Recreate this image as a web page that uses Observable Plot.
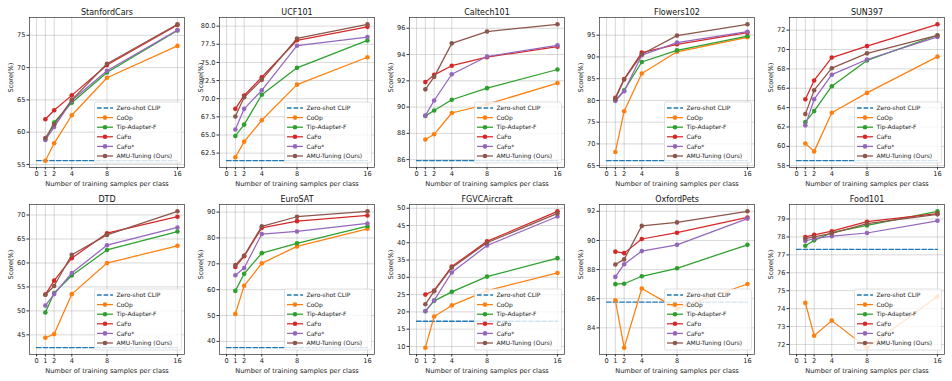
<!DOCTYPE html>
<html><head><meta charset="utf-8">
<script src="https://cdn.jsdelivr.net/npm/d3@7"></script>
<script src="https://cdn.jsdelivr.net/npm/@observablehq/plot@0.6"></script>
<style>
html,body{margin:0;padding:0;background:#fff;}
#root{position:relative;width:952px;height:381px;overflow:hidden;font-family:"DejaVu Sans",sans-serif;}
.panel{position:absolute;width:190px;height:190px;}
.panel svg{overflow:visible;}
</style></head><body><div id="root"></div>
<script>
const shots = [1, 2, 4, 8, 16];
const xTicks = [0, 1, 2, 4, 8, 16];
const datasets = ["StanfordCars","UCF101","Caltech101","Flowers102","SUN397","DTD","EuroSAT","FGVCAircraft","OxfordPets","Food101"];
const methods = ["CoOp","Tip-Adapter-F","CaFo","CaFo*","AMU-Tuning (Ours)"];
const zeroShotLabel = "Zero-shot CLIP";

const zeroShot = [55.61, 61.46, 85.92, 66.14, 58.52, 42.32, 37.56, 17.28, 85.77, 77.31];

const coop = [
  [55.59,58.28,62.62,68.43,73.36],
  [61.92,64.09,67.03,71.94,75.71],
  [87.53,87.93,89.55,90.21,91.83],
  [68.12,77.51,86.20,91.18,94.51],
  [60.29,59.48,63.47,65.52,69.26],
  [44.39,45.15,53.49,59.97,63.58],
  [50.63,61.50,70.18,76.73,83.53],
  [9.64,18.68,21.87,26.13,31.26],
  [85.89,82.64,86.70,85.32,87.01],
  [74.32,72.49,73.33,71.82,74.67]
];
const tipAdapterF = [
  [58.86,61.50,64.57,69.25,75.74],
  [64.87,66.43,70.55,74.25,78.03],
  [89.33,89.74,90.56,91.44,92.86],
  [79.98,82.30,88.83,91.51,94.80],
  [62.50,63.64,66.21,68.87,71.47],
  [49.65,53.72,57.39,62.71,66.55],
  [59.53,66.15,74.12,77.93,84.54],
  [20.22,23.19,25.80,30.21,35.55],
  [87.00,87.03,87.54,88.09,89.70],
  [77.51,77.81,78.24,78.64,79.43]
];
const cafo = [
  [62.0,63.4,65.7,70.4,76.6],
  [68.6,70.45,72.95,78.05,79.9],
  [91.9,92.45,93.15,93.8,94.6],
  [80.6,84.9,91.0,92.9,95.6],
  [64.86,66.8,69.17,70.35,72.6],
  [53.4,56.3,61.0,66.2,69.65],
  [68.8,72.9,83.9,86.5,88.7],
  [25.0,26.2,33.1,40.4,49.1],
  [89.23,89.13,90.1,90.53,91.58],
  [78.0,78.12,78.32,78.85,79.3]
];
const cafoStar = [
  [58.8,60.8,64.9,69.5,75.8],
  [65.75,68.6,71.15,77.3,78.5],
  [89.35,90.5,92.5,93.85,94.7],
  [79.9,82.1,90.4,93.3,95.8],
  [62.17,64.86,67.4,68.97,71.3],
  [51.1,53.5,57.9,63.7,67.4],
  [65.6,68.4,81.5,82.5,85.6],
  [20.2,23.35,31.4,39.2,47.6],
  [87.5,88.37,89.27,89.7,91.5],
  [77.78,77.9,78.04,78.22,78.9]
];
const amuTuning = [
  [59.1,61.2,65.0,70.6,76.7],
  [67.55,70.2,72.6,78.3,80.25],
  [91.35,92.3,94.85,95.75,96.3],
  [80.3,84.8,90.6,94.9,97.5],
  [63.33,65.8,68.07,69.6,71.45],
  [53.35,55.2,61.7,65.85,70.77],
  [69.5,73.2,84.5,88.2,90.3],
  [22.2,26.0,32.8,40.0,48.5],
  [88.35,88.7,91.0,91.24,92.0],
  [77.9,78.0,78.2,78.74,79.26]
];
const yTicks = [
  [55,60,65,70,75],
  [62.5,65,67.5,70,72.5,75,77.5,80],
  [86,88,90,92,94,96],
  [65,70,75,80,85,90,95],
  [58,60,62,64,66,68,70,72],
  [45,50,55,60,65,70],
  [40,50,60,70,80,90],
  [10,15,20,25,30,35,40,45,50],
  [84,86,88,90,92],
  [72,73,74,75,76,77,78,79]
];
const yTickDecimals = [0,1,0,0,0,0,0,0,0,0];

const seriesList = [coop, tipAdapterF, cafo, cafoStar, amuTuning];
const palette = {"Zero-shot CLIP":"#1f77b4","CoOp":"#ff7f0e","Tip-Adapter-F":"#2ca02c","CaFo":"#d62728","CaFo*":"#9467bd","AMU-Tuning (Ours)":"#8c564b"};

const root = document.getElementById("root");
const W = 190, H = 190, mL = 29, mR = 6, mT = 17, mB = 23;
const dash = "4.6,2";
const LW = 1.25, R = 2.3;

datasets.forEach((name, i) => {
  const rowsByMethod = methods.map((m, k) => shots.map((s, j) => ({method: m, shot: s, score: seriesList[k][i][j]})));
  const zero = [{shot: 0, score: zeroShot[i]}, {shot: 16, score: zeroShot[i]}];
  const all = rowsByMethod.flat().map(d => d.score).concat([zeroShot[i]]);
  const lo = d3.min(all), hi = d3.max(all), pad = (hi - lo) * 0.05;
  const fmt = d3.format("." + yTickDecimals[i] + "f");

  const marks = [
    Plot.gridX(xTicks, {stroke: "#b0b0b0", strokeOpacity: 0.55, strokeWidth: 0.9}),
    Plot.gridY(yTicks[i], {stroke: "#b0b0b0", strokeOpacity: 0.55, strokeWidth: 0.9}),
    Plot.axisX(xTicks, {tickSize: 2.5, tickPadding: 1.5, label: null, fontSize: 6.6, tickFormat: d => String(d), stroke: "#333"}),
    Plot.axisY(yTicks[i], {tickSize: 2.5, tickPadding: 1.5, label: null, fontSize: 6.6, tickFormat: fmt, stroke: "#333"}),
    Plot.line(zero, {x: "shot", y: "score", stroke: palette[zeroShotLabel], strokeWidth: 1.35, strokeDasharray: dash})
  ];
  rowsByMethod.forEach((rows, k) => {
    const c = palette[methods[k]];
    marks.push(Plot.line(rows, {x: "shot", y: "score", stroke: c, strokeWidth: LW}));
    marks.push(Plot.dot(rows, {x: "shot", y: "score", fill: c, r: R}));
  });
  marks.push(Plot.frame({stroke: "#333", strokeWidth: 0.7}));
  marks.push(Plot.text([name], {text: d => d, frameAnchor: "top", dy: -5.5, lineAnchor: "middle", fontSize: 8, fill: "#111"}));
  marks.push(Plot.text(["Number of training samples per class"], {text: d => d, frameAnchor: "bottom", dy: 16, lineAnchor: "middle", fontSize: 6.6, fill: "#222"}));
  marks.push(Plot.text(["Score(%)"], {text: d => d, frameAnchor: "left", dx: -19, rotate: -90, lineAnchor: "middle", fontSize: 6.6, fill: "#222"}));

  const svg = Plot.plot({
    width: W, height: H, marginLeft: mL, marginRight: mR, marginTop: mT, marginBottom: mB,
    style: {fontFamily: "'DejaVu Sans', sans-serif", fontSize: "6.6px", color: "#222", background: "transparent"},
    x: {domain: [-0.8, 16.8], label: null},
    y: {domain: [lo - pad, hi + pad], label: null},
    marks
  });

  // legend (lower right, inside the frame)
  const fr = W - mR, fb = H - mB;
  const lw = 87, lh = 61;
  const lx = fr - 2.5 - lw, ly = fb - 4 - lh;
  const g = d3.select(svg).append("g")
    .attr("font-family", "'DejaVu Sans', sans-serif")
    .attr("font-size", 6)
    .attr("text-anchor", "start");
  g.append("rect")
    .attr("x", lx).attr("y", ly).attr("width", lw).attr("height", lh)
    .attr("rx", 1.5).attr("ry", 1.5)
    .style("fill", "#ffffff").style("fill-opacity", 0.8)
    .style("stroke", "#cccccc").style("stroke-width", 0.6);
  const labels = [zeroShotLabel].concat(methods);
  labels.forEach((lab, k) => {
    const cy = ly + 6 + k * 9.6;
    const c = palette[lab];
    const ln = g.append("line")
      .attr("x1", lx + 2.5).attr("x2", lx + 18.5).attr("y1", cy).attr("y2", cy)
      .style("stroke", c).style("stroke-width", k === 0 ? 1.35 : LW);
    if (k === 0) ln.style("stroke-dasharray", dash);
    else g.append("circle").attr("cx", lx + 10.5).attr("cy", cy).attr("r", R).style("fill", c);
    g.append("text")
      .attr("x", lx + 22).attr("y", cy).attr("dy", "0.35em")
      .attr("text-anchor", "start")
      .style("fill", "#222")
      .text(lab);
  });

  const div = document.createElement("div");
  div.className = "panel";
  div.style.left = ((i % 5) * 190) + "px";
  div.style.top = (Math.floor(i / 5) * 187) + "px";
  div.appendChild(svg);
  root.appendChild(div);
});
</script>
</body></html>
